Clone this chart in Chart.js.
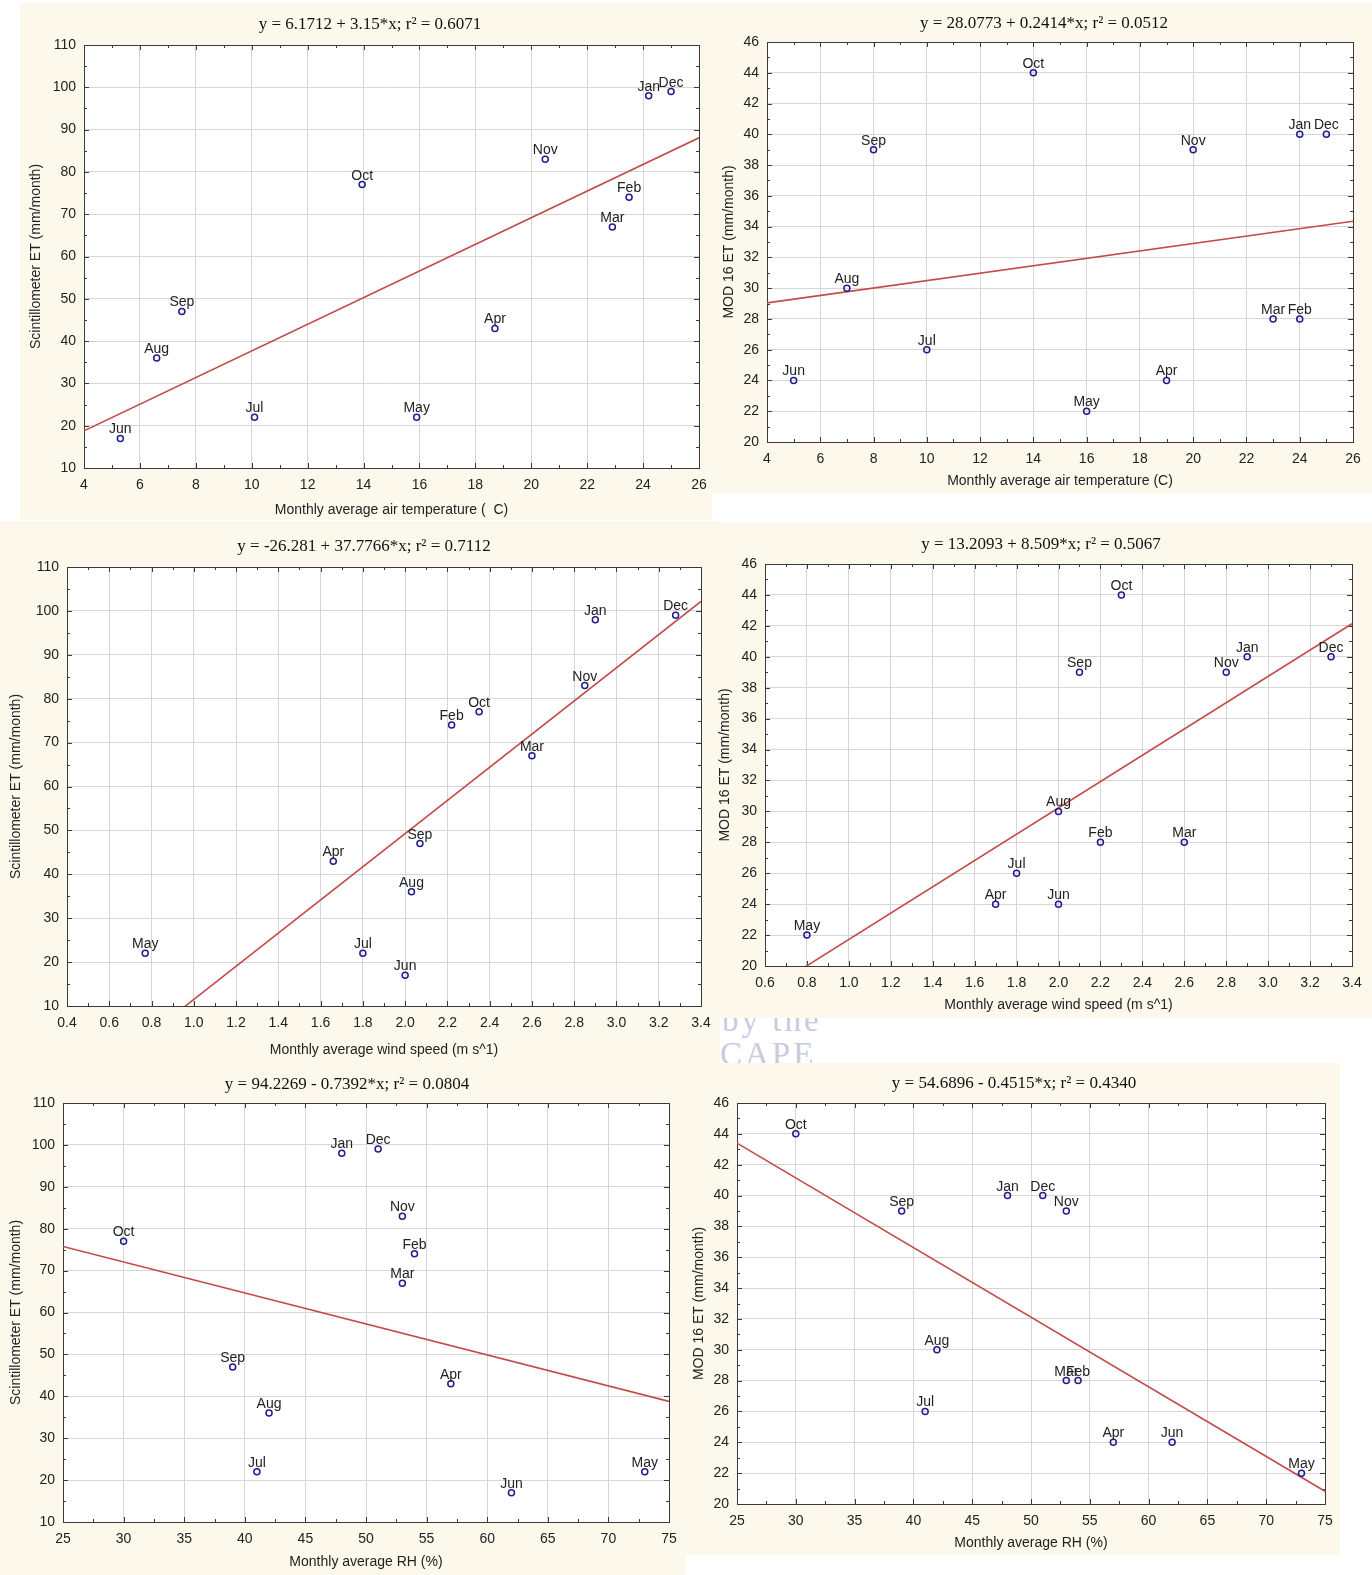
<!DOCTYPE html>
<html lang="en">
<head>
<meta charset="UTF-8">
<title>Monthly ET against air temperature, wind speed and RH</title>
<script src="https://cdn.jsdelivr.net/npm/chart.js"></script>
<style>
    body { margin: 0; background: #fff; }
    #page { position: relative; width: 1372px; height: 1575px; overflow: hidden; background: #fff; }
    .panel { position: absolute; background: #fcf8ec; }
    .wm { position: absolute; font-family: "Liberation Serif", serif; font-size: 33px; line-height: 33px; color: #c9cbde; letter-spacing: 3px; }
</style>
</head>
<body>
<div id="page">
    <!-- faint watermark fragment that peeks out between the panels -->
    <div class="wm" style="left:722px; top:1004px;">by the</div>
    <div class="wm" style="left:720px; top:1038px;">CAPE</div>
</div>

<script>
// ---- data ----
const months = ['Jan', 'Feb', 'Mar', 'Apr', 'May', 'Jun', 'Jul', 'Aug', 'Sep', 'Oct', 'Nov', 'Dec'];

const scintET = [98, 74, 67, 43, 22, 17, 22, 36, 47, 77, 83, 99];   // mm/month
const mod16ET = [40, 28, 28, 24, 22, 24, 26, 30, 39, 44, 39, 40];   // mm/month

const airTempScint = [24.2, 23.5, 22.9, 18.7, 15.9, 5.3, 10.1, 6.6, 7.5, 13.95, 20.5, 25.0];
const airTempMod = [24, 24, 23, 19, 16, 5, 10, 7, 8, 14, 20, 25];
const windScint = [2.9, 2.22, 2.6, 1.66, 0.77, 2.0, 1.8, 2.03, 2.07, 2.35, 2.85, 3.28];
const windMod = [2.9, 2.2, 2.6, 1.7, 0.8, 2.0, 1.8, 2.0, 2.1, 2.3, 2.8, 3.3];
const relHum = [48, 54, 53, 57, 73, 62, 41, 42, 39, 30, 53, 51];

// regression lines as printed in the panel titles
const fitIntercept = [6.1712, 28.0773, -26.281, 13.2093, 94.2269, 54.6896];
const fitSlope = [3.15, 0.2414, 37.7766, 8.509, -0.7392, -0.4515];
const titles = [
    'y = 6.1712 + 3.15*x; r\u00b2 = 0.6071',
    'y = 28.0773 + 0.2414*x; r\u00b2 = 0.0512',
    'y = -26.281 + 37.7766*x; r\u00b2 = 0.7112',
    'y = 13.2093 + 8.509*x; r\u00b2 = 0.5067',
    'y = 94.2269 - 0.7392*x; r\u00b2 = 0.0804',
    'y = 54.6896 - 0.4515*x; r\u00b2 = 0.4340'
];

// axis ranges [min, max, step, decimals]
const tempAxis = [4, 26, 2, 0];
const windAxisScint = [0.4, 3.4, 0.2, 1];
const windAxisMod = [0.6, 3.4, 0.2, 1];
const rhAxis = [25, 75, 5, 0];
const scintAxis = [10, 110, 10, 0];
const modAxis = [20, 46, 2, 0];

const xTitles = ['Monthly average air temperature (  C)', 'Monthly average air temperature (C)',
                 'Monthly average wind speed (m s^1)', 'Monthly average wind speed (m s^1)',
                 'Monthly average RH (%)', 'Monthly average RH (%)'];
const scintTitle = 'Scintillometer ET (mm/month)';
const modTitle = 'MOD 16 ET (mm/month)';

// ---- layout of the six panels (page pixels) ----
// bg: [x0, y0, x1, y1], plot: [left, top, right, bottom]
const panels = [
    { bg: [20, 3, 712, 520],     plot: [84, 45, 699, 468],     tc: [370, 25],    yt: 35.7, xt: 510,
      xs: airTempScint, ys: scintET, xa: tempAxis, ya: scintAxis, yTitle: scintTitle },
    { bg: [712, 3, 1372, 493],   plot: [767, 42, 1353, 442],   tc: [1044, 24],   yt: 729,  xt: 481,
      xs: airTempMod, ys: mod16ET, xa: tempAxis, ya: modAxis, yTitle: modTitle },
    { bg: [0, 521, 720, 1063],   plot: [67, 567, 701, 1006],   tc: [364, 547],   yt: 16,   xt: 1050,
      xs: windScint, ys: scintET, xa: windAxisScint, ya: scintAxis, yTitle: scintTitle },
    { bg: [712, 523, 1372, 1018], plot: [765, 564, 1352, 966], tc: [1041, 545],  yt: 725,  xt: 1005,
      xs: windMod, ys: mod16ET, xa: windAxisMod, ya: modAxis, yTitle: modTitle },
    { bg: [0, 1063, 686, 1575],  plot: [63, 1103, 669, 1522],  tc: [347, 1085],  yt: 16,   xt: 1562,
      xs: relHum, ys: scintET, xa: rhAxis, ya: scintAxis, yTitle: scintTitle },
    { bg: [686, 1063, 1340, 1555], plot: [737, 1103, 1325, 1504], tc: [1014, 1084], yt: 699, xt: 1543,
      xs: relHum, ys: mod16ET, xa: rhAxis, ya: modAxis, yTitle: modTitle }
];

const sans = '"Liberation Sans", Arial, sans-serif';
const textColor = '#222';

// white plot area, frame with inward ticks, month labels and the equation title
const panelDecor = {
    id: 'panelDecor',
    beforeDraw(chart) {
        const a = chart.chartArea;
        const ctx = chart.ctx;
        ctx.save();
        ctx.fillStyle = '#fff';
        ctx.fillRect(a.left, a.top, a.right - a.left, a.bottom - a.top);
        ctx.restore();
    },
    beforeDatasetsDraw(chart) {
        const a = chart.chartArea;
        const ctx = chart.ctx;
        const xs = chart.scales.x, ys = chart.scales.y;
        ctx.save();
        ctx.strokeStyle = '#3a3a3a';
        ctx.lineWidth = 1;
        ctx.beginPath();
        const step = (s) => s.ticks.length > 1 ? s.ticks[1].value - s.ticks[0].value : 1;
        const sx = step(xs), sy = step(ys);
        for (let v = xs.min; v <= xs.max + 1e-9; v += sx / 2) {
            const major = Math.abs(Math.round((v - xs.min) / sx) * sx - (v - xs.min)) < 1e-6;
            const len = major ? 5 : 3;
            const px = Math.round(xs.getPixelForValue(v)) + 0.5;
            ctx.moveTo(px, a.bottom); ctx.lineTo(px, a.bottom - len);
            ctx.moveTo(px, a.top); ctx.lineTo(px, a.top + len);
        }
        for (let v = ys.min; v <= ys.max + 1e-9; v += sy / 2) {
            const major = Math.abs(Math.round((v - ys.min) / sy) * sy - (v - ys.min)) < 1e-6;
            const len = major ? 5 : 3;
            const py = Math.round(ys.getPixelForValue(v)) + 0.5;
            ctx.moveTo(a.left, py); ctx.lineTo(a.left + len, py);
            ctx.moveTo(a.right, py); ctx.lineTo(a.right - len, py);
        }
        ctx.stroke();
        ctx.strokeRect(Math.round(a.left) + 0.5, Math.round(a.top) + 0.5,
                       Math.round(a.right - a.left), Math.round(a.bottom - a.top));
        ctx.restore();
    },
    afterDatasetsDraw(chart, args, opts) {
        const ctx = chart.ctx;
        const meta = chart.getDatasetMeta(0);
        ctx.save();
        ctx.font = '14px ' + sans;
        ctx.fillStyle = textColor;
        ctx.textAlign = 'center';
        ctx.textBaseline = 'alphabetic';
        meta.data.forEach((pt, i) => {
            ctx.fillText(months[i], pt.x, pt.y - 5);
        });
        ctx.font = '17px "Liberation Serif", "Times New Roman", serif';
        ctx.fillStyle = '#111';
        ctx.textBaseline = 'middle';
        ctx.fillText(opts.title, opts.tx, opts.ty);
        ctx.restore();
    }
};

const page = document.getElementById('page');

panels.forEach((p, k) => {
    const [x0, y0, x1, y1] = p.bg;
    const [L, T, R, B] = p.plot;
    const W = x1 - x0, H = y1 - y0;

    const wrap = document.createElement('div');
    wrap.className = 'panel';
    wrap.style.left = x0 + 'px';
    wrap.style.top = y0 + 'px';
    wrap.style.width = W + 'px';
    wrap.style.height = H + 'px';
    const canvas = document.createElement('canvas');
    canvas.width = W;
    canvas.height = H;
    canvas.style.width = W + 'px';
    canvas.style.height = H + 'px';
    wrap.appendChild(canvas);
    page.appendChild(wrap);

    const [xmin, xmax, xstep, xdec] = p.xa;
    const [ymin, ymax, ystep, ydec] = p.ya;
    const fitLine = [xmin, xmax].map(x => ({ x: x, y: fitIntercept[k] + fitSlope[k] * x }));

    new Chart(canvas, {
        type: 'scatter',
        data: {
            datasets: [
                {
                    data: p.xs.map((x, i) => ({ x: x, y: p.ys[i] })),
                    pointRadius: 3,
                    pointHoverRadius: 3,
                    pointBorderWidth: 1.5,
                    borderColor: '#1e1e8c',
                    backgroundColor: 'rgba(255,255,255,0)',
                    order: 1
                },
                {
                    type: 'line',
                    data: fitLine,
                    showLine: true,
                    borderColor: '#c44a4a',
                    borderWidth: 1.6,
                    pointRadius: 0,
                    fill: false,
                    order: 2
                }
            ]
        },
        options: {
            responsive: false,
            animation: false,
            events: [],
            layout: { padding: { left: 0, top: T - y0, right: x1 - R, bottom: 0 } },
            plugins: {
                legend: { display: false },
                tooltip: { enabled: false },
                title: { display: false },
                panelDecor: { title: titles[k], tx: p.tc[0] - x0, ty: p.tc[1] - y0 }
            },
            scales: {
                x: {
                    type: 'linear',
                    position: 'bottom',
                    min: xmin,
                    max: xmax,
                    ticks: {
                        stepSize: xstep,
                        maxTicksLimit: 100,
                        autoSkip: false,
                        maxRotation: 0,
                        padding: 0,
                        color: textColor,
                        // tall line box pushes the labels down without widening the side padding
                        font: { family: sans, size: 14, lineHeight: 2.4 },
                        callback: v => Number(v).toFixed(xdec)
                    },
                    grid: { color: '#d6d6d6', drawTicks: false },
                    border: { display: false },
                    title: {
                        display: true,
                        text: xTitles[k],
                        color: textColor,
                        font: { family: sans, size: 14 },
                        padding: { top: 0, bottom: y1 - p.xt - 8.4 }
                    },
                    afterFit: s => { s.height = y1 - B; }
                },
                y: {
                    type: 'linear',
                    position: 'left',
                    min: ymin,
                    max: ymax,
                    ticks: {
                        stepSize: ystep,
                        maxTicksLimit: 100,
                        padding: 8,
                        color: textColor,
                        font: { family: sans, size: 14 },
                        callback: v => Number(v).toFixed(ydec)
                    },
                    grid: { color: '#d6d6d6', drawTicks: false },
                    border: { display: false },
                    title: {
                        display: true,
                        text: p.yTitle,
                        color: textColor,
                        font: { family: sans, size: 14 },
                        padding: { top: p.yt - x0 - 8.4, bottom: 0 }
                    },
                    afterFit: s => { s.width = L - x0; }
                }
            }
        },
        plugins: [panelDecor]
    });
});
</script>
</body>
</html>
